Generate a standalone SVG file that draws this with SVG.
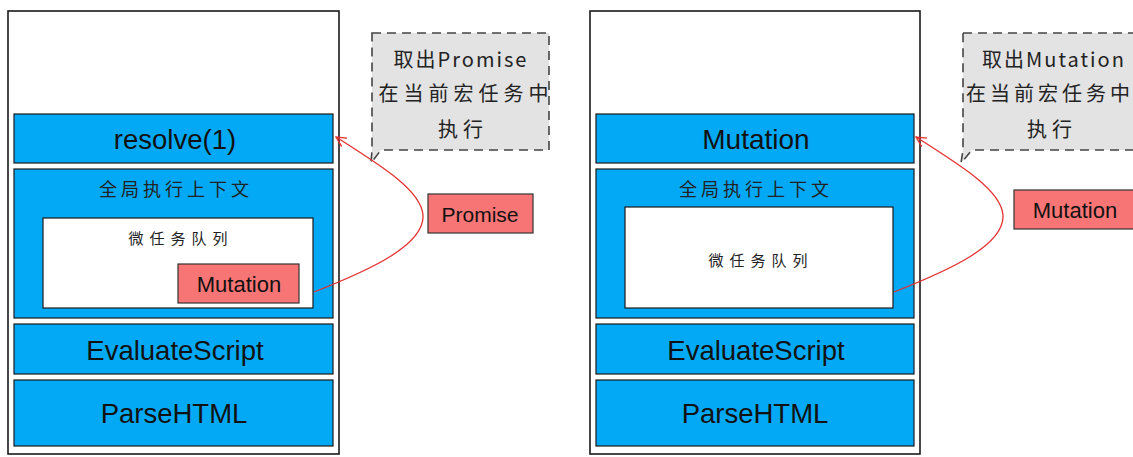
<svg xmlns="http://www.w3.org/2000/svg" width="1133" height="457" viewBox="0 0 1133 457">
<defs>
<style>
.outer{fill:#fff;stroke:#1a1a1a;stroke-width:1.6}
.blue{fill:#03a9f4;stroke:#1a1a1a;stroke-width:1.2}
.white{fill:#fff;stroke:#1a1a1a;stroke-width:1.2}
.red{fill:#f87575;stroke:#333;stroke-width:1.2}
.call{fill:#e3e3e3;stroke:#444;stroke-width:1.6;stroke-dasharray:9 6}
.t{font-family:"Liberation Sans","Noto Sans CJK SC",sans-serif;fill:#111;text-anchor:middle;dominant-baseline:central}
.big{font-size:27.5px}
.mid{font-size:22px}
.cn{font-family:"Noto Sans CJK SC",sans-serif;fill:#222;text-anchor:middle;dominant-baseline:central}
.cl{font-size:20px;letter-spacing:5px}
.ctx{font-size:18px;letter-spacing:4px}
.q{font-size:15px;letter-spacing:6px}
.conn{fill:none;stroke:#e53030;stroke-width:1.3}
</style>
<marker id="arr" markerWidth="12" markerHeight="12" refX="11" refY="6" orient="auto" markerUnits="userSpaceOnUse">
<path d="M1,1 L11,6 L1,11" fill="none" stroke="#e53030" stroke-width="1.3"/>
</marker>
</defs>

<g id="left-stack">
<rect class="outer" x="8" y="11" width="331" height="443"/>
</g>
<g id="left-resolve">
<rect class="blue" x="14" y="114" width="319" height="49"/>
<text class="t big" x="175" y="139">resolve(1)</text>
</g>
<g id="left-global">
<rect class="blue" x="14" y="169" width="319" height="149"/>
<text class="cn ctx" x="176" y="188">全局执行上下文</text>
</g>
<g id="left-queue">
<rect class="white" x="43" y="218" width="270" height="90"/>
<text class="cn q" x="181" y="237">微任务队列</text>
</g>
<g id="left-mutation">
<rect class="red" x="178" y="264" width="121" height="39"/>
<text class="t mid" x="239" y="284">Mutation</text>
</g>
<g id="left-evaluate">
<rect class="blue" x="14" y="324" width="319" height="50"/>
<text class="t big" x="175" y="350">EvaluateScript</text>
</g>
<g id="left-parse">
<rect class="blue" x="14" y="380" width="319" height="66"/>
<text class="t big" x="174" y="413">ParseHTML</text>
</g>
<g id="left-callout">
<path class="call" d="M372,33 L549,33 L549,150 L381,150 L371,163 L372,150 Z"/>
<text class="cn" x="461" y="58" font-size="20" letter-spacing="2">取出Promise</text>
<text class="cn cl" x="466" y="92">在当前宏任务中</text>
<text class="cn cl" x="463" y="128">执行</text>
</g>
<g id="left-promise">
<rect class="red" x="428" y="194" width="105" height="39"/>
<text class="t" x="480" y="214" font-size="21">Promise</text>
</g>

<g id="right-stack">
<rect class="outer" x="590" y="11" width="330" height="443"/>
</g>
<g id="right-mutation-top">
<rect class="blue" x="596" y="114" width="318" height="49"/>
<text class="t" x="756" y="139" font-size="28">Mutation</text>
</g>
<g id="right-global">
<rect class="blue" x="596" y="169" width="318" height="149"/>
<text class="cn ctx" x="756" y="188">全局执行上下文</text>
</g>
<g id="right-queue">
<rect class="white" x="625" y="207" width="268" height="101"/>
<text class="cn q" x="761" y="259">微任务队列</text>
</g>
<g id="right-evaluate">
<rect class="blue" x="596" y="324" width="318" height="50"/>
<text class="t big" x="756" y="350">EvaluateScript</text>
</g>
<g id="right-parse">
<rect class="blue" x="596" y="380" width="318" height="66"/>
<text class="t big" x="755" y="413">ParseHTML</text>
</g>
<g id="right-callout">
<path class="call" d="M963,33 L1140,33 L1140,150 L972,150 L961,163 L963,150 Z"/>
<text class="cn" x="1054" y="58" font-size="20" letter-spacing="2">取出Mutation</text>
<text class="cn" x="966" y="92" style="font-size:20px;letter-spacing:4px;text-anchor:start">在当前宏任务中</text>
<text class="cn cl" x="1052" y="128">执行</text>
</g>
<g id="right-mutation">
<rect class="red" x="1014" y="190" width="125" height="39"/>
<text class="t mid" x="1075" y="210">Mutation</text>
</g>

<g id="connectors">
<path class="conn" d="M314,292 C370,270 425,245 423,215 C421,190 380,165 336,137" marker-end="url(#arr)"/>
<path class="conn" d="M894,292 C950,270 1005,245 1003,215 C1001,190 960,165 916,137" marker-end="url(#arr)"/>
</g>
</svg>
